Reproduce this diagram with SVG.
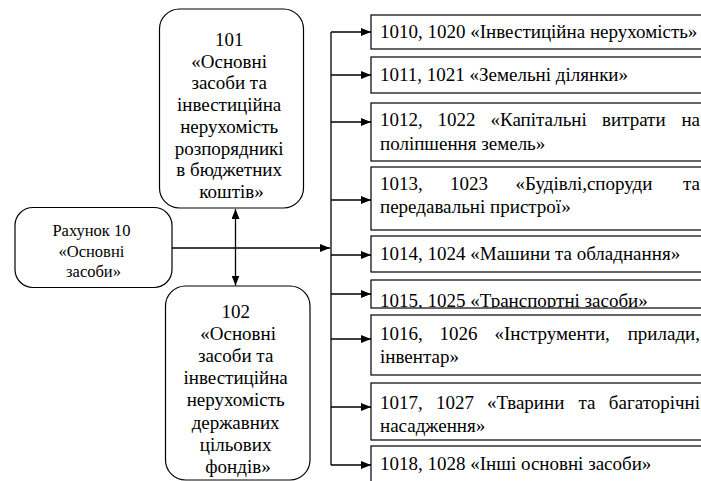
<svg xmlns="http://www.w3.org/2000/svg" width="701" height="481" viewBox="0 0 701 481">
<style>
text{font-family:'Liberation Serif','Times New Roman',serif;font-size:19px;fill:#000}
.s{font-size:16.5px}
.c{text-anchor:middle}
.e{text-anchor:end}
.rb{fill:#fff;stroke:#000;stroke-width:1.2}
.bx{fill:#fff;stroke:#000;stroke-width:1.2}
.ln{fill:none;stroke:#000;stroke-width:1.3}
</style>
<defs>
<marker id="ah" markerUnits="userSpaceOnUse" markerWidth="10" markerHeight="8" refX="10" refY="4" orient="auto-start-reverse" viewBox="0 0 10 8">
<path d="M0,0 L10,4 L0,8 z" fill="#000"/>
</marker>
<clipPath id="clip6"><rect x="371" y="280" width="340" height="27.5"/></clipPath>
</defs>
<rect width="701" height="481" fill="#fff"/>

<g id="connectors">
<line class="ln" x1="235.5" y1="209" x2="235.5" y2="285.5" marker-start="url(#ah)" marker-end="url(#ah)"/>
<line class="ln" x1="172" y1="248" x2="330" y2="248" marker-end="url(#ah)"/>
<line class="ln" x1="331" y1="32" x2="331" y2="465"/>
<line class="ln" x1="331" y1="32" x2="371" y2="32" marker-end="url(#ah)"/>
<line class="ln" x1="331" y1="75" x2="371" y2="75" marker-end="url(#ah)"/>
<line class="ln" x1="331" y1="122" x2="371" y2="122" marker-end="url(#ah)"/>
<line class="ln" x1="331" y1="200" x2="371" y2="200" marker-end="url(#ah)"/>
<line class="ln" x1="331" y1="255" x2="371" y2="255" marker-end="url(#ah)"/>
<line class="ln" x1="331" y1="294" x2="371" y2="294" marker-end="url(#ah)"/>
<line class="ln" x1="331" y1="339" x2="371" y2="339" marker-end="url(#ah)"/>
<line class="ln" x1="331" y1="407" x2="371" y2="407" marker-end="url(#ah)"/>
<line class="ln" x1="331" y1="465" x2="371" y2="465" marker-end="url(#ah)"/>
</g>

<g id="node-101">
<rect class="rb" x="159.5" y="9" width="144" height="199" rx="20"/>
<text class="c">
<tspan x="231.5" y="46">101</tspan>
<tspan x="231.5" y="67.7">«Основні</tspan>
<tspan x="231.5" y="89.4">засоби та</tspan>
<tspan x="231.5" y="111.1">інвестиційна</tspan>
<tspan x="231.5" y="132.8">нерухомість</tspan>
<tspan x="231.5" y="154.5">розпорядникі</tspan>
<tspan x="231.5" y="176.2">в бюджетних</tspan>
<tspan x="231.5" y="197.9">коштів»</tspan>
</text>
</g>

<g id="node-10">
<rect class="rb" x="15" y="207.5" width="157" height="80" rx="18"/>
<text class="s c">
<tspan x="93.5" y="236">Рахунок 10</tspan>
<tspan x="93.5" y="256.5">«Основні</tspan>
<tspan x="93.5" y="277">засоби»</tspan>
</text>
</g>

<g id="node-102">
<rect class="rb" x="165.5" y="286" width="144.5" height="194" rx="20"/>
<text class="c">
<tspan x="238" y="318">102</tspan>
<tspan x="240.5" y="340.1">«Основні</tspan>
<tspan x="238" y="362.2">засоби та</tspan>
<tspan x="238" y="384.3">інвестиційна</tspan>
<tspan x="238" y="406.4">нерухомість</tspan>
<tspan x="238" y="428.5">державних</tspan>
<tspan x="238" y="450.6">цільових</tspan>
<tspan x="238" y="472.7">фондів»</tspan>
</text>
</g>

<g id="node-1010">
<rect class="bx" x="371" y="15" width="360" height="34"/>
<text x="380" y="38">1010, 1020 «Інвестиційна нерухомість»</text>
</g>

<g id="node-1011">
<rect class="bx" x="371" y="57" width="360" height="36"/>
<text x="380" y="81">1011, 1021 «Земельні ділянки»</text>
</g>

<g id="node-1012">
<rect class="bx" x="371" y="103" width="360" height="58"/>
<text><tspan x="380" y="126">1012,</tspan><tspan x="437.5" y="126">1022</tspan><tspan x="490.5" y="126">«Капітальні</tspan><tspan x="602" y="126">витрати</tspan></text>
<text class="e" x="700" y="126">на</text>
<text x="380" y="149.5">поліпшення земель»</text>
</g>

<g id="node-1013">
<rect class="bx" x="371" y="167" width="360" height="63"/>
<text><tspan x="380" y="190">1013,</tspan><tspan x="450" y="190">1023</tspan><tspan x="515.5" y="190">«Будівлі,споруди</tspan></text>
<text class="e" x="700" y="190">та</text>
<text x="380" y="213">передавальні пристрої»</text>
</g>

<g id="node-1014">
<rect class="bx" x="371" y="236" width="360" height="36"/>
<text x="380" y="259.5">1014, 1024 «Машини та обладнання»</text>
</g>

<g id="node-1015">
<rect class="bx" x="371" y="280" width="360" height="28"/>
<text x="380" y="306.5" clip-path="url(#clip6)">1015, 1025 «Транспортні засоби»</text>
</g>

<g id="node-1016">
<rect class="bx" x="371" y="315" width="360" height="60"/>
<text><tspan x="380" y="340">1016,</tspan><tspan x="439.5" y="340">1026</tspan><tspan x="494.5" y="340">«Інструменти,</tspan></text>
<text class="e" x="700" y="340">прилади,</text>
<text x="380" y="363">інвентар»</text>
</g>

<g id="node-1017">
<rect class="bx" x="371" y="383" width="360" height="57"/>
<text><tspan x="380" y="408.5">1017,</tspan><tspan x="436" y="408.5">1027</tspan><tspan x="487" y="408.5">«Тварини</tspan><tspan x="578.5" y="408.5">та</tspan></text>
<text class="e" x="700" y="408.5">багаторічні</text>
<text x="380" y="431.5">насадження»</text>
</g>

<g id="node-1018">
<rect class="bx" x="371" y="446" width="360" height="60"/>
<text x="380" y="470">1018, 1028 «Інші основні засоби»</text>
</g>
</svg>
